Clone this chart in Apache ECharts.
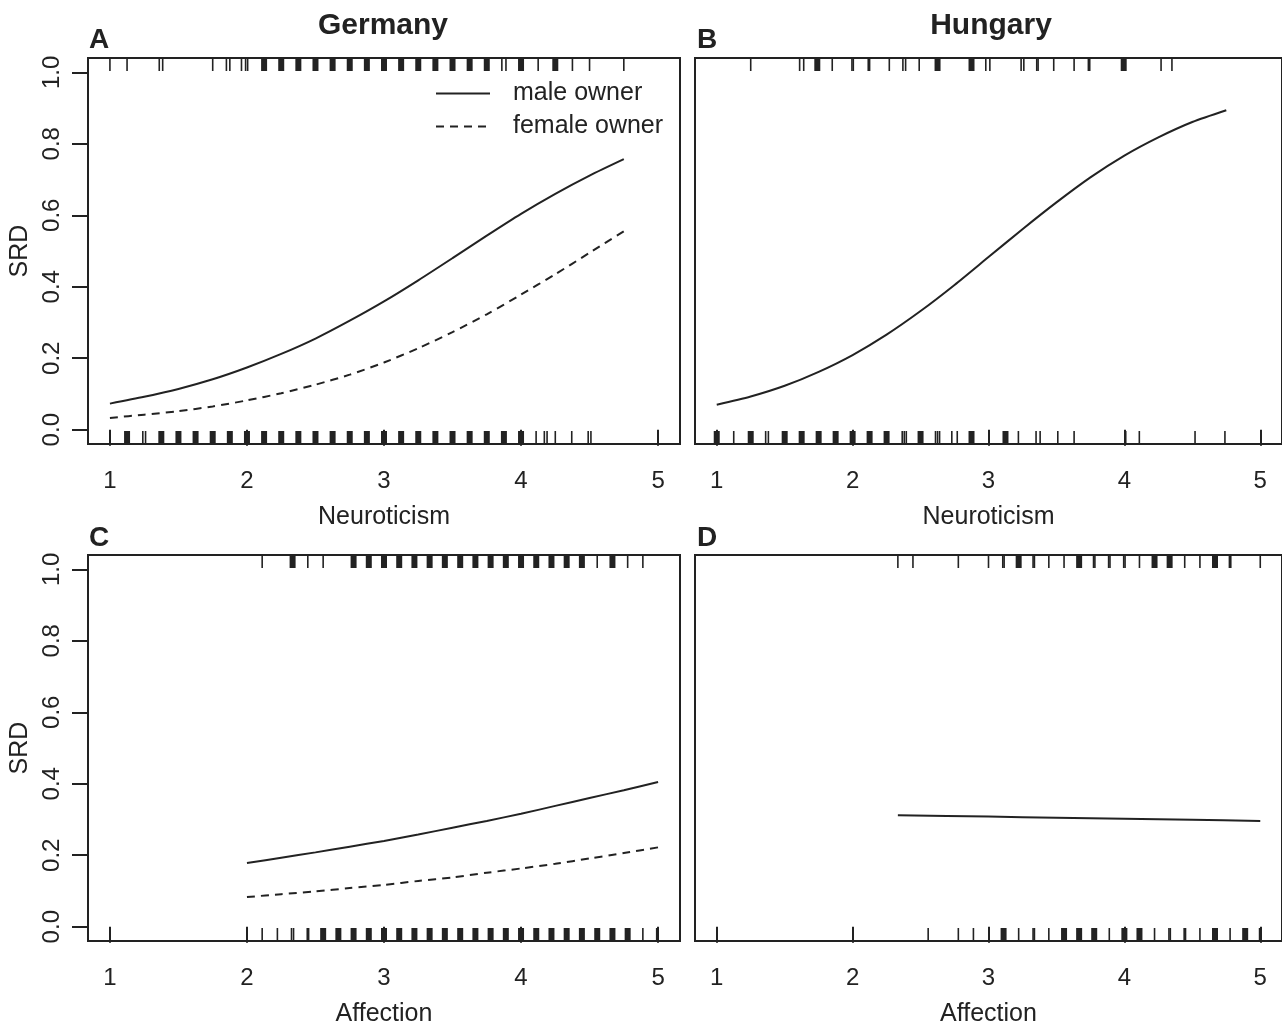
<!DOCTYPE html>
<html>
<head>
<meta charset="utf-8">
<script src="https://cdn.jsdelivr.net/npm/echarts@6/dist/echarts.min.js"></script>
<style>
html,body{margin:0;padding:0;background:#fff;}
#chart{width:1282px;height:1028px;}
</style>
</head>
<body>
<div id="chart"></div>
<script>
// ---------- data ----------
const panelTitles = ['Germany', 'Hungary'];
const panelLetters = ['A', 'B', 'C', 'D'];
const xTicks = [1, 2, 3, 4, 5];
const yTicks = [0, 0.2, 0.4, 0.6, 0.8, 1.0];
const xNames = ['Neuroticism', 'Neuroticism', 'Affection', 'Affection'];
const seriesNames = ['male owner', 'female owner'];

// predicted SRD curves
const neuroX = [1, 1.25, 1.5, 1.75, 2, 2.25, 2.5, 2.75, 3, 3.25, 3.5, 3.75, 4, 4.25, 4.5, 4.75];
const germanyNeuroMale   = [0.073, 0.092, 0.114, 0.141, 0.174, 0.212, 0.255, 0.305, 0.359, 0.418, 0.480, 0.543, 0.604, 0.660, 0.711, 0.757];
const germanyNeuroFemale = [0.033, 0.042, 0.052, 0.065, 0.082, 0.102, 0.126, 0.154, 0.188, 0.228, 0.273, 0.323, 0.378, 0.435, 0.495, 0.555];
const hungaryNeuro       = [0.070, 0.093, 0.123, 0.162, 0.209, 0.266, 0.332, 0.405, 0.483, 0.561, 0.636, 0.706, 0.767, 0.818, 0.861, 0.894];

const affGerX = [2, 2.25, 2.5, 2.75, 3, 3.25, 3.5, 3.75, 4, 4.25, 4.5, 4.75, 5];
const germanyAffMale   = [0.178, 0.193, 0.208, 0.224, 0.240, 0.258, 0.277, 0.296, 0.316, 0.338, 0.360, 0.382, 0.405];
const germanyAffFemale = [0.083, 0.091, 0.099, 0.108, 0.117, 0.128, 0.138, 0.151, 0.163, 0.176, 0.191, 0.206, 0.222];
const affHunX = [2.333, 3, 3.5, 4, 4.5, 5];
const hungaryAff = [0.312, 0.308, 0.305, 0.302, 0.299, 0.296];

// rug data (observed cases): top = SRD 1, bottom = SRD 0; dense = stacked ticks
const rugA_top_dense = [2.125, 2.25, 2.375, 2.5, 2.625, 2.75, 2.875, 3.0, 3.125, 3.25, 3.375, 3.5, 3.625, 3.75, 4.0, 4.25];
const rugA_top_single = [1.0, 1.125, 1.36, 1.385, 1.75, 1.85, 1.875, 1.96, 1.99, 2.005, 3.86, 3.89, 4.125, 4.375, 4.5, 4.75];
const rugA_bot_dense = [1.125, 1.375, 1.5, 1.625, 1.75, 1.875, 2.0, 2.125, 2.25, 2.375, 2.5, 2.625, 2.75, 2.875, 3.0, 3.125, 3.25, 3.375, 3.5, 3.625, 3.75, 3.875, 4.0];
const rugA_bot_single = [1.0, 1.24, 1.26, 4.11, 4.17, 4.19, 4.25, 4.37, 4.49, 4.51];

const rugB_top_dense = [1.74, 2.625, 2.875, 3.995];
const rugB_top_single = [1.25, 1.61, 1.64, 1.85, 1.995, 2.005, 2.115, 2.125, 2.27, 2.37, 2.39, 2.49, 2.98, 3.01, 3.24, 3.26, 3.355, 3.365, 3.48, 3.63, 3.735, 3.745, 4.27, 4.35];
const rugB_bot_dense = [1.0, 1.25, 1.5, 1.625, 1.75, 1.875, 2.0, 2.125, 2.25, 2.5, 2.875, 3.125];
const rugB_bot_single = [1.125, 1.36, 1.38, 2.365, 2.38, 2.395, 2.61, 2.625, 2.64, 2.73, 2.77, 3.22, 3.35, 3.38, 3.51, 3.63, 4.01, 4.11, 4.52, 4.74];

const rugC_top_dense = [2.333, 2.778, 2.889, 3.0, 3.111, 3.222, 3.333, 3.444, 3.556, 3.667, 3.778, 3.889, 4.0, 4.111, 4.222, 4.333, 4.444, 4.667];
const rugC_top_single = [2.111, 2.444, 2.556, 4.556, 4.778, 4.889];
const rugC_bot_dense = [2.556, 2.667, 2.778, 2.889, 3.0, 3.111, 3.222, 3.333, 3.444, 3.556, 3.667, 3.778, 3.889, 4.0, 4.111, 4.222, 4.333, 4.444, 4.556, 4.667, 4.778];
const rugC_bot_single = [2.0, 2.111, 2.222, 2.325, 2.34, 2.44, 2.45, 4.889, 4.99, 5.0];

const rugD_top_dense = [3.222, 3.667, 4.222, 4.333, 4.667];
const rugD_top_single = [2.333, 2.444, 2.778, 3.0, 3.105, 3.115, 3.328, 3.338, 3.444, 3.556, 3.773, 3.783, 3.884, 3.894, 3.995, 4.005, 4.111, 4.444, 4.556, 4.773, 4.783, 5.0];
const rugD_bot_dense = [3.111, 3.556, 3.667, 3.778, 4.0, 4.111, 4.667, 4.889];
const rugD_bot_single = [2.556, 2.778, 2.889, 3.222, 3.328, 3.338, 3.444, 3.889, 4.222, 4.328, 4.338, 4.44, 4.45, 4.556, 4.778, 4.995, 5.005];

// ---------- layout ----------
const INK = '#222222';
const FONT = '"Liberation Sans", Arial, Helvetica, sans-serif';
const grids = [
  {left: 88,  top: 58,  width: 592, height: 386},
  {left: 695, top: 58,  width: 591, height: 386},
  {left: 88,  top: 555, width: 592, height: 386},
  {left: 695, top: 555, width: 591, height: 386}
];

function pairs(xs, ys) { return xs.map((x, i) => [x, ys[i]]); }

function rug(idx, values, side, dense) {
  return {
    type: 'custom',
    xAxisIndex: idx, yAxisIndex: idx,
    silent: true, clip: false, z: 3,
    data: values.map(v => [v, side === 'top' ? 1 : 0]),
    encode: {x: 0, y: 1},
    renderItem: function (params, api) {
      const x = api.coord([api.value(0), api.value(1)])[0];
      const cs = params.coordSys;
      const len = 13;
      const w = dense ? 6 : 1.6;
      const y = side === 'top' ? cs.y : cs.y + cs.height - len;
      return {type: 'rect', shape: {x: x - w / 2, y: y, width: w, height: len}, style: {fill: INK}};
    }
  };
}

function curve(idx, name, xs, ys, dashed) {
  return {
    type: 'line', name: name, xAxisIndex: idx, yAxisIndex: idx,
    data: pairs(xs, ys), showSymbol: false, symbol: 'none', silent: true,
    smooth: 0.25,
    lineStyle: {color: INK, width: 2, type: dashed ? [8, 6] : 'solid'},
    itemStyle: {color: INK}, z: 4
  };
}

const xAxes = grids.map((g, i) => ({
  type: 'value', gridIndex: i, min: 0.84, max: 5.16,
  name: xNames[i], nameLocation: 'middle', nameGap: 61,
  nameTextStyle: {fontSize: 25, color: INK, fontFamily: FONT},
  axisLine: {show: false},
  axisTick: {show: true, length: 16, inside: false, customValues: xTicks, lineStyle: {color: INK, width: 2}},
  axisLabel: {show: true, customValues: xTicks, fontSize: 24, color: INK, fontFamily: FONT, margin: 25},
  splitLine: {show: false}
}));

const yAxes = grids.map((g, i) => ({
  type: 'value', gridIndex: i, min: -0.04, max: 1.04,
  name: 'SRD', nameLocation: 'middle', nameGap: 55, nameRotate: 90,
  nameTextStyle: {fontSize: 25, color: INK, fontFamily: FONT},
  axisLine: {show: false},
  axisTick: {show: i % 2 === 0, length: 16, customValues: yTicks, lineStyle: {color: INK, width: 2}},
  axisLabel: {show: i % 2 === 0, customValues: yTicks, rotate: 90, fontSize: 24, color: INK, fontFamily: FONT, margin: 24,
    formatter: v => Number(v).toFixed(1)},
  splitLine: {show: false}
}));
yAxes[1].name = ''; yAxes[3].name = '';

const series = [
  curve(0, seriesNames[0], neuroX, germanyNeuroMale, false),
  curve(0, seriesNames[1], neuroX, germanyNeuroFemale, true),
  curve(1, 'Hungary neuroticism', neuroX, hungaryNeuro, false),
  curve(2, seriesNames[0], affGerX, germanyAffMale, false),
  curve(2, seriesNames[1], affGerX, germanyAffFemale, true),
  curve(3, 'Hungary affection', affHunX, hungaryAff, false),
  rug(0, rugA_top_dense, 'top', true), rug(0, rugA_top_single, 'top', false),
  rug(0, rugA_bot_dense, 'bottom', true), rug(0, rugA_bot_single, 'bottom', false),
  rug(1, rugB_top_dense, 'top', true), rug(1, rugB_top_single, 'top', false),
  rug(1, rugB_bot_dense, 'bottom', true), rug(1, rugB_bot_single, 'bottom', false),
  rug(2, rugC_top_dense, 'top', true), rug(2, rugC_top_single, 'top', false),
  rug(2, rugC_bot_dense, 'bottom', true), rug(2, rugC_bot_single, 'bottom', false),
  rug(3, rugD_top_dense, 'top', true), rug(3, rugD_top_single, 'top', false),
  rug(3, rugD_bot_dense, 'bottom', true), rug(3, rugD_bot_single, 'bottom', false)
];

const letterPos = [[99, 40], [707, 40], [99, 538], [707, 538]];
const titlePos = [[383, 26], [991, 26]];
const graphics = [];
panelLetters.forEach((t, i) => graphics.push({
  type: 'text', x: letterPos[i][0], y: letterPos[i][1], silent: true,
  style: {text: t, fill: INK, font: 'bold 28px ' + FONT, textAlign: 'center', textVerticalAlign: 'middle'}
}));
panelTitles.forEach((t, i) => graphics.push({
  type: 'text', x: titlePos[i][0], y: titlePos[i][1], silent: true,
  style: {text: t, fill: INK, font: 'bold 30px ' + FONT, textAlign: 'center', textVerticalAlign: 'middle'}
}));

const chart = echarts.init(document.getElementById('chart'), null, {renderer: 'canvas'});
chart.setOption({
  backgroundColor: '#ffffff',
  animation: false,
  textStyle: {fontFamily: FONT},
  grid: grids.map(g => Object.assign({show: true, borderColor: INK, borderWidth: 2, backgroundColor: 'transparent'}, g)),
  xAxis: xAxes,
  yAxis: yAxes,
  legend: {
    data: seriesNames, orient: 'vertical', left: 430, top: 76,
    itemWidth: 54, itemHeight: 16, itemGap: 8, selectedMode: false,
    itemStyle: {opacity: 0},
    textStyle: {fontSize: 25, color: INK, fontFamily: FONT, padding: [0, 0, 0, 18]}
  },
  graphic: graphics,
  series: series
});
</script>
</body>
</html>
